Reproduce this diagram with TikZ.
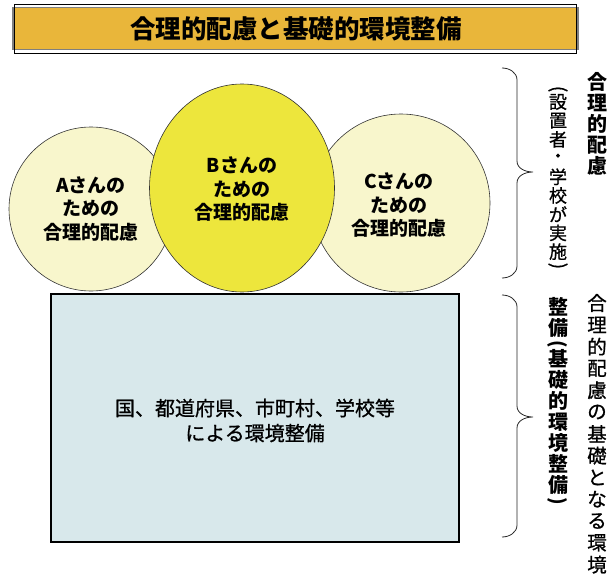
\documentclass[tikz,border=0pt]{standalone}
\usepackage{fontspec}
\setmainfont{Noto Sans CJK JP}
\newfontfamily\medfont[FakeBold=0.8]{Noto Sans CJK JP}
\usetikzlibrary{shapes.geometric}
\definecolor{titlefill}{HTML}{E9B63A}
\definecolor{palefill}{HTML}{F8F6CC}
\definecolor{bfill}{HTML}{EDE63C}
\definecolor{rectfill}{HTML}{D8E8EB}
\definecolor{edgegray}{HTML}{7F7F7F}
\tikzset{
  circ/.style={draw=black!80, line width=0.6pt, inner sep=0pt},
  ctext/.style={align=center, inner sep=0pt, font=\fontsize{19}{23.5}\selectfont\bfseries},
  vchar/.style={inner sep=0pt, font=\fontsize{19.5}{19.5}\medfont},
  vsmall/.style={inner sep=0pt, font=\fontsize{18}{18}\medfont},
  vbold/.style={inner sep=0pt, font=\fontsize{20}{20}\selectfont\bfseries},
  vparen/.style={inner sep=0pt, rotate=-90, font=\fontsize{19}{19}\medfont},
  bracepath/.style={draw=black!85, line width=0.8pt},
}
\begin{document}
\begin{tikzpicture}[x=1pt,y=-1pt]
\useasboundingbox (0,0) rectangle (609,575);
% title
\node[draw=edgegray, line width=1.6pt, fill=titlefill, minimum width=565pt, minimum height=42pt, inner sep=0pt] (titlebox) at (295.3,28.7) {};
\draw[black, line width=0.8pt] ([shift={(2.5,-2.5)}]titlebox.north west) rectangle ([shift={(-2.5,2.5)}]titlebox.south east);
\node[font=\fontsize{25.5}{28}\selectfont\bfseries, inner sep=0pt] (title) at (296,29) {合理的配慮と基礎的環境整備};
% base rectangle
\node[draw=black, line width=2pt, fill=rectfill, minimum width=408pt, minimum height=248pt, inner sep=0pt] (base) at (254.8,418.3) {};
\node[align=center, inner sep=0pt, font=\fontsize{20}{25}\medfont] (basetext) at (255,420.5) {国、都道府県、市町村、学校等\\による環境整備};
% circles
\node[circ, fill=palefill, circle, minimum size=164pt] (ca) at (91,209) {};
\node[circ, fill=palefill, circle, minimum size=178pt] (cc) at (401,203) {};
\node[circ, fill=bfill, ellipse, minimum width=185pt, minimum height=208pt] (cb) at (242,188) {};
\node[ctext] (ta) at (91,209) {Aさんの\\ための\\合理的配慮};
\node[ctext] (tb) at (242,189.5) {Bさんの\\ための\\合理的配慮};
\node[ctext] (tc) at (399,205.5) {Cさんの\\ための\\合理的配慮};
% braces
\coordinate (b1s) at (502,68); \coordinate (b1t) at (533,172); \coordinate (b1e) at (502,278);
\draw[bracepath] (b1s) to[out=0,in=90] (517,80) -- (517,161) to[out=-90,in=180] (b1t) to[out=180,in=90] (517,183) -- (517,266) to[out=-90,in=0] (b1e);
\coordinate (b2s) at (502,295); \coordinate (b2t) at (533,417); \coordinate (b2e) at (502,537);
\draw[bracepath] (b2s) to[out=0,in=90] (517,307) -- (517,406) to[out=-90,in=180] (b2t) to[out=180,in=90] (517,428) -- (517,525) to[out=-90,in=0] (b2e);
% vertical texts, top
\foreach \c [count=\i] in {合,理,的,配,慮}
  \node[vbold] (ra\i) at (597,{82+21*(\i-1)}) {\c};
\node[vparen] (lap) at (558,89) {(};
\foreach \c [count=\i] in {設,置,者,・,学,校,が,実,施}
  \node[vsmall] (la\i) at (558,{102+18.7*(\i-1)}) {\c};
\node[vparen] (laq) at (558,266) {)};
% vertical texts, bottom
\foreach \c [count=\i] in {合,理,的,配,慮,の,基,礎,と,な,る,環,境}
  \node[vchar] (rb\i) at (597,{303+21.8*(\i-1)}) {\c};
\node[vbold] (lb1) at (558,307) {整};
\node[vbold] (lb2) at (558,328) {備};
\node[vparen, font=\fontsize{19}{19}\selectfont\bfseries] (lbp) at (558,344) {(};
\foreach \c [count=\i] in {基,礎,的,環,境,整,備}
  \node[vbold] (lc\i) at (558,{359+21*(\i-1)}) {\c};
\node[vparen, font=\fontsize{19}{19}\selectfont\bfseries] (lbq) at (558,501) {)};
\end{tikzpicture}
\end{document}
